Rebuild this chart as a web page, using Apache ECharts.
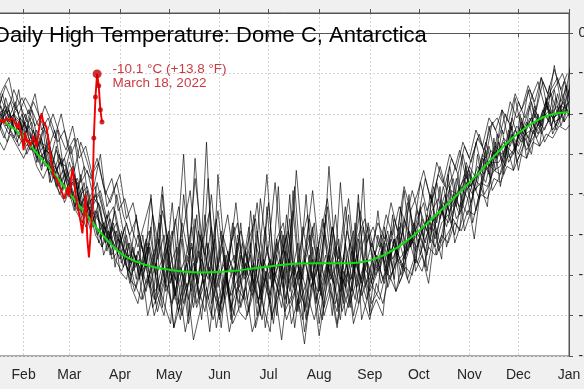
<!DOCTYPE html>
<html><head><meta charset="utf-8">
<script src="https://cdn.jsdelivr.net/npm/echarts@6/dist/echarts.min.js"></script>
<style>html,body{margin:0;padding:0;background:#f0f0f0}#c{width:584px;height:389px}</style>
</head><body><div id="c"></div>
<script>
const titleText = 'Daily High Temperature: Dome C, Antarctica';
const monthNames = ['Feb','Mar','Apr','May','Jun','Jul','Aug','Sep','Oct','Nov','Dec','Jan'];
const monthStartDays = [31,59,90,120,151,181,212,243,273,304,334,365];
const yMin = -80, yMax = 5, yStep = 10;

const climDays = [0,10,20,30,40,50,60,70,80,90,100,110,120,130,140,150,160,170,180,190,200,210,220,230,240,250,260,270,280,290,300,310,320,330,340,350,360,365];
const climValues = [-19.6,-20.3,-22.2,-25.4,-30.2,-35.0,-40.2,-45.3,-50.3,-54.4,-56.6,-57.9,-58.6,-59.1,-59.3,-59.2,-58.9,-58.4,-57.9,-57.4,-57.1,-57.0,-57.0,-57.0,-56.6,-55.3,-53.1,-50.1,-46.4,-42.6,-38.6,-34.5,-30.1,-26.1,-23.0,-20.7,-19.7,-19.6];

const red2022 = [-19,-20,-18.5,-21,-20,-19.5,-22,-20.5,-21,-19,-20,-22,-21,-20,-21.5,-20.5,
 -21,-22,-21.5,-22.3,-21.5,-21,-21.8,-22,-21,-21.6,-22,-23.6,-22,-24,
 -25.8,-29,-24.6,-27,-26.5,-28,-27,-25.4,-27,-28.2,
 -25,-22,-19.8,-22,-22.5,-23.3,-26,-29,-32,-34.8,
 -35.5,-36,-37,-38,-39,-40,-41,-40,-38,-40.6,
 -36,-33.5,-37,-40.6,-43,-44.7,-47,-49.6,-45,-40,
 -51,-55.6,-50,-44,-26,-15.8,-10.1,-13,-19,-22];
const recordDay = 76;
const recordMarkerDays = [74,75,76,77,78,79];
const recordLabel = '-10.1 °C (+13.8 °F)\nMarch 18, 2022';

const sampleStep = 4;
const yearOffsets = [0,1,2,3,0,1,2,3,0,1,2,3,0,1,2,3,0,2];
const yearA = [-18,-22,-17,-21,-24,-19,-23,-26,-22,-29,-27,-33,-31,-38,-35,-41,-37,-45,-43,-50,-47,-55,-49,-58,-52,-61,-50,-63,-57,-68,-54,-46,-60,-66,-58,-71,-52,-62,-49,-64,-70,-55,-60,-45,-66,-59,-72,-57,-50,-63,-58,-68,-48,-61,-55,-70,-53,-60,-64,-51,-58,-62,-50,-57,-49,-56,-46,-53,-44,-51,-40,-47,-38,-45,-36,-42,-34,-39,-31,-35,-27,-32,-24,-29,-22,-26,-20,-23,-17,-21,-18,-19];
const yearB = [-21,-16,-20,-23,-18,-22,-20,-25,-28,-24,-31,-29,-36,-32,-33,-39,-44,-40,-47,-42,-52,-48,-51,-57,-60,-54,-59,-48,-65,-70,-58,-62,-40,-55,-67,-61,-74,-59,-53,-66,-57,-63,-69,-52,-58,-42,-61,-68,-56,-73,-60,-54,-47,-65,-58,-62,-71,-55,-49,-60,-66,-57,-59,-52,-58,-48,-55,-50,-47,-52,-44,-41,-46,-39,-40,-35,-38,-33,-35,-29,-31,-26,-28,-23,-25,-21,-24,-19,-22,-16,-20,-17];
const yearC = [-19,-23,-21,-18,-22,-25,-21,-23,-27,-30,-26,-34,-33,-36,-40,-35,-43,-39,-46,-51,-45,-53,-50,-56,-54,-58,-64,-55,-51,-62,-67,-60,-56,-48,-63,-69,-57,-44,-58,-65,-61,-59,-52,-67,-62,-56,-70,-50,-64,-57,-61,-46,-55,-66,-58,-53,-63,-68,-56,-62,-50,-59,-54,-60,-51,-57,-53,-47,-55,-45,-49,-43,-48,-40,-43,-37,-40,-34,-37,-30,-29,-33,-25,-28,-24,-21,-25,-20,-23,-19,-17,-21];
const yearD = [-22,-19,-24,-20,-19,-24,-27,-22,-25,-31,-28,-30,-38,-34,-37,-42,-38,-46,-44,-48,-53,-49,-57,-52,-58,-52,-60,-66,-59,-53,-64,-71,-55,-61,-50,-57,-64,-68,-60,-47,-63,-57,-65,-60,-48,-63,-57,-66,-60,-52,-69,-59,-64,-50,-61,-57,-67,-52,-63,-58,-69,-55,-61,-55,-53,-58,-49,-54,-49,-46,-51,-44,-47,-43,-38,-41,-36,-38,-32,-34,-33,-28,-30,-26,-22,-25,-22,-18,-21,-20,-18,-16];
const yearE = [-16,-20,-23,-19,-21,-18,-21,-24,-20,-26,-32,-29,-30,-35,-42,-38,-36,-43,-49,-45,-50,-46,-53,-55,-61,-63,-57,-52,-60,-56,-49,-65,-59,-72,-63,-56,-61,-51,-67,-59,-55,-68,-61,-57,-64,-53,-60,-65,-45,-59,-67,-62,-56,-72,-60,-48,-58,-63,-54,-67,-59,-52,-57,-62,-54,-50,-56,-51,-53,-48,-45,-50,-42,-44,-41,-38,-33,-36,-30,-33,-28,-30,-27,-24,-27,-23,-19,-22,-18,-22,-21,-15];
const yearF = [-20,-24,-18,-22,-20,-23,-26,-21,-24,-27,-25,-31,-35,-30,-39,-37,-41,-44,-41,-52,-48,-55,-51,-54,-57,-50,-55,-61,-69,-62,-57,-53,-67,-60,-45,-62,-58,-73,-64,-56,-60,-52,-58,-63,-71,-60,-55,-49,-62,-58,-65,-70,-61,-56,-43,-59,-64,-57,-70,-62,-56,-61,-58,-50,-56,-52,-47,-52,-49,-54,-47,-45,-40,-47,-39,-36,-42,-35,-31,-36,-30,-27,-31,-27,-23,-27,-22,-21,-19,-23,-17,-20];
const yearG = [-23,-18,-21,-25,-22,-20,-24,-27,-23,-25,-33,-27,-32,-37,-34,-43,-40,-38,-45,-47,-49,-52,-56,-50,-59,-56,-62,-58,-47,-64,-60,-69,-58,-53,-62,-45,-67,-61,-57,-71,-52,-61,-55,-70,-56,-61,-51,-59,-67,-63,-48,-57,-66,-61,-55,-67,-60,-45,-59,-65,-61,-54,-62,-58,-51,-60,-55,-48,-51,-55,-46,-52,-44,-41,-45,-39,-37,-41,-34,-32,-32,-29,-26,-30,-25,-24,-21,-24,-20,-18,-22,-19];
const yearH = [-17,-21,-19,-22,-26,-21,-19,-25,-29,-24,-29,-35,-29,-33,-38,-36,-45,-42,-40,-46,-51,-44,-52,-59,-55,-59,-53,-64,-62,-50,-66,-58,-63,-57,-66,-52,-60,-70,-55,-61,-67,-54,-62,-66,-59,-71,-62,-54,-58,-69,-56,-63,-58,-47,-64,-69,-55,-61,-57,-48,-64,-60,-53,-61,-57,-55,-51,-57,-46,-50,-53,-47,-45,-50,-42,-45,-39,-37,-38,-34,-35,-31,-29,-24,-29,-26,-23,-17,-24,-21,-19,-22];
const yearI = [-21,-17,-22,-24,-17,-23,-22,-28,-25,-22,-30,-31,-37,-33,-31,-40,-44,-37,-48,-44,-55,-50,-47,-53,-62,-55,-66,-60,-54,-38,-57,-64,-70,-62,-31,-55,-66,-59,-73,-57,-48,-62,-70,-64,-52,-35,-58,-63,-71,-66,-60,-40,-62,-75,-64,-57,-51,-70,-63,-42,-60,-67,-64,-48,-60,-56,-59,-44,-57,-52,-48,-55,-50,-38,-46,-43,-35,-44,-36,-28,-34,-24,-32,-29,-21,-28,-18,-25,-22,-14,-23,-18];
const yearJ = [-24,-22,-16,-20,-23,-27,-20,-22,-30,-26,-27,-28,-34,-40,-36,-33,-42,-48,-43,-40,-46,-56,-54,-48,-63,-67,-58,-40,-61,-67,-72,-52,-30,-60,-68,-63,-56,-46,-62,-74,-66,-58,-48,-73,-66,-57,-64,-76,-62,-38,-59,-65,-71,-64,-57,-62,-37,-58,-72,-66,-56,-63,-66,-59,-45,-62,-58,-60,-51,-58,-40,-54,-51,-48,-35,-49,-44,-30,-40,-37,-25,-35,-22,-32,-28,-18,-26,-23,-13,-24,-20,-14];
const yearK = [-18,-25,-20,-17,-21,-19,-25,-20,-26,-28,-34,-25,-36,-31,-38,-44,-35,-47,-41,-43,-54,-47,-59,-61,-53,-61,-52,-68,-64,-58,-42,-62,-74,-66,-54,-64,-70,-35,-54,-68,-63,-66,-44,-61,-68,-74,-52,-61,-40,-65,-71,-55,-67,-59,-33,-56,-69,-64,-47,-71,-65,-58,-52,-63,-58,-43,-61,-56,-43,-59,-50,-38,-53,-46,-49,-33,-47,-40,-29,-39,-36,-30,-23,-34,-26,-30,-20,-27,-24,-15,-22,-12];
const yearL = [-25,-20,-23,-26,-20,-17,-23,-26,-21,-32,-24,-37,-28,-39,-32,-37,-47,-41,-38,-53,-44,-58,-49,-57,-64,-57,-70,-63,-45,-60,-73,-63,-57,-68,-59,-27,-63,-71,-65,-58,-69,-71,-64,-56,-73,-62,-38,-69,-65,-59,-74,-64,-53,-68,-62,-72,-59,-67,-61,-36,-70,-66,-70,-54,-64,-60,-40,-59,-55,-62,-49,-56,-35,-52,-47,-41,-51,-38,-43,-26,-38,-28,-34,-20,-31,-24,-28,-16,-25,-21,-13,-24];
const yearM = [-12,-16,-10,-15,-18,-13,-17,-20,-16,-19,-23,-18,-22,-27,-24,-30,-26,-33,-36,-31,-38,-42,-37,-45,-50,-46,-54,-49,-58,-44,-52,-61,-47,-55,-36,-50,-58,-63,-53,-45,-57,-49,-56,-62,-41,-54,-60,-50,-57,-44,-61,-52,-39,-55,-62,-48,-56,-43,-58,-50,-46,-53,-47,-51,-42,-49,-38,-44,-40,-34,-41,-32,-37,-30,-34,-27,-31,-24,-28,-21,-24,-19,-22,-15,-19,-13,-17,-11,-15,-9,-14,-10];
const yearN = [-14,-11,-17,-13,-16,-20,-14,-18,-22,-17,-21,-25,-20,-25,-29,-23,-31,-28,-35,-32,-40,-36,-44,-41,-48,-53,-47,-41,-56,-50,-62,-55,-48,-39,-57,-51,-44,-59,-50,-56,-42,-57,-51,-46,-59,-53,-37,-55,-49,-60,-52,-45,-58,-50,-41,-54,-61,-49,-55,-44,-52,-48,-53,-45,-50,-43,-47,-39,-45,-36,-42,-35,-38,-31,-35,-28,-32,-26,-29,-23,-21,-25,-17,-21,-18,-14,-19,-12,-16,-13,-10,-15];
const yearO = [-9,-15,-12,-18,-14,-11,-19,-16,-20,-15,-24,-21,-26,-20,-28,-34,-27,-32,-38,-30,-43,-39,-35,-46,-42,-50,-58,-45,-53,-63,-51,-43,-56,-64,-49,-55,-40,-57,-66,-52,-47,-60,-54,-42,-58,-65,-51,-47,-59,-34,-53,-62,-57,-46,-55,-64,-52,-41,-57,-61,-47,-55,-50,-56,-46,-52,-42,-48,-37,-44,-40,-33,-39,-35,-29,-36,-30,-25,-31,-22,-26,-20,-24,-17,-21,-16,-12,-18,-14,-11,-17,-8];
const yearP = [-24,-27,-23,-26,-29,-25,-28,-31,-27,-33,-36,-32,-38,-41,-37,-44,-47,-43,-50,-53,-49,-56,-59,-55,-62,-66,-60,-70,-64,-58,-73,-67,-62,-76,-69,-63,-71,-65,-59,-72,-68,-63,-74,-69,-60,-70,-65,-58,-72,-66,-77,-63,-57,-70,-64,-73,-61,-68,-55,-66,-71,-62,-67,-60,-64,-57,-62,-56,-59,-53,-55,-50,-52,-47,-49,-44,-45,-40,-41,-36,-37,-33,-34,-30,-31,-27,-28,-25,-26,-23,-24,-22];
const yearQ = [-15,-21,-13,-19,-24,-16,-22,-14,-25,-19,-28,-22,-30,-24,-35,-28,-39,-33,-46,-37,-44,-51,-40,-49,-57,-45,-61,-53,-67,-40,-58,-65,-51,-70,-46,-60,-36,-62,-69,-54,-61,-47,-66,-58,-70,-43,-62,-56,-67,-39,-60,-71,-53,-64,-45,-59,-68,-52,-61,-40,-63,-57,-44,-59,-51,-55,-39,-53,-46,-42,-52,-37,-45,-33,-43,-30,-38,-27,-34,-23,-31,-19,-27,-16,-24,-14,-21,-11,-19,-8,-17,-13];
const yearR = [-20,-13,-18,-22,-15,-21,-17,-24,-19,-23,-20,-29,-24,-33,-29,-26,-37,-34,-41,-39,-46,-43,-52,-47,-54,-60,-51,-57,-64,-55,-49,-67,-61,-52,-65,-59,-48,-63,-55,-69,-50,-58,-64,-49,-61,-67,-55,-63,-46,-69,-58,-50,-64,-71,-57,-45,-62,-59,-66,-53,-48,-60,-55,-49,-61,-47,-54,-51,-44,-49,-38,-46,-41,-36,-44,-32,-37,-34,-27,-33,-27,-31,-21,-26,-22,-17,-23,-18,-15,-20,-12,-17];
const otherYears = [yearA,yearB,yearC,yearD,yearE,yearF,yearG,yearH,yearI,yearJ,yearK,yearL,yearM,yearN,yearO,yearP,yearQ,yearR];

const FONT = '"Liberation Sans", Arial, Helvetica, sans-serif';
const dayCats = Array.from({length: 366}, (_, i) => String(i));
const isMonthStart = (idx) => monthStartDays.includes(idx);

const series = [];
otherYears.forEach((vals, k) => {
  series.push({
    type: 'line', xAxisIndex: 0, yAxisIndex: 0, silent: true, symbol: 'none', z: 2,
    lineStyle: { color: 'rgba(0,0,0,0.72)', width: 0.9 },
    data: vals.map((v, i) => [yearOffsets[k] + sampleStep * i, v])
  });
});
series.push({
  type: 'line', smooth: 0.4, symbol: 'none', silent: true, z: 4,
  lineStyle: { color: '#12dd12', width: 2 },
  data: climDays.map((d, i) => [d, climValues[i]])
});
series.push({
  type: 'line', symbol: 'none', silent: true, z: 5,
  lineStyle: { color: '#f00000', width: 1.9 },
  data: red2022.map((v, i) => [i, v])
});
series.push({
  type: 'scatter', silent: true, z: 6,
  itemStyle: { color: '#c00000' },
  data: recordMarkerDays.map(d => ({
    value: [d, red2022[d]],
    symbolSize: d === recordDay ? 9 : 5,
    label: d === recordDay ? {
      show: true, position: 'right', distance: 11, offset: [0, 2],
      formatter: recordLabel, color: '#bb0a12', fontSize: 13.5, lineHeight: 14,
      fontFamily: FONT, align: 'left'
    } : { show: false }
  }))
});

const chart = echarts.init(document.getElementById('c'), null, { renderer: 'canvas' });
chart.setOption({
  animation: false,
  backgroundColor: '#f0f0f0',
  title: {
    text: titleText, left: -6, top: 25, padding: 0,
    textStyle: { fontSize: 22, fontWeight: 'normal', color: '#000', fontFamily: FONT }
  },
  grid: { left: -27, right: 15, top: 13, bottom: 33, show: true, backgroundColor: '#ffffff', borderColor: '#555', borderWidth: 1,
    containLabel: false, outerBoundsMode: 'none' },
  xAxis: [{
    type: 'category', data: dayCats, boundaryGap: false, position: 'bottom',
    axisLine: { lineStyle: { color: '#555', width: 1 } },
    axisTick: { show: true, interval: isMonthStart, length: 4, lineStyle: { color: '#555' } },
    axisLabel: { interval: isMonthStart, formatter: (v, idx) => monthNames[monthStartDays.indexOf(Number(v))] || '',
      fontSize: 14, color: '#262626', margin: 12, fontFamily: FONT },
    splitLine: { show: true, interval: isMonthStart, lineStyle: { color: '#d4d4d4', type: [2, 2], width: 1 } }
  }, {
    type: 'category', data: dayCats, boundaryGap: false, position: 'top',
    axisLine: { lineStyle: { color: '#555', width: 1 } },
    axisTick: { show: true, interval: isMonthStart, length: 4, lineStyle: { color: '#555' } },
    axisLabel: { show: false }, splitLine: { show: false }
  }],
  yAxis: [{
    type: 'value', position: 'right', min: yMin, max: yMax, interval: yStep,
    axisLine: { show: true, lineStyle: { color: '#555', width: 1 } },
    axisTick: { show: true, length: 4, lineStyle: { color: '#555' } },
    axisLabel: { showMaxLabel: false, fontSize: 14, color: '#262626', margin: 9.5, fontFamily: FONT,
      formatter: v => (v > 0 ? '' : String(v)) },
    splitLine: { show: true, lineStyle: { color: '#d4d4d4', type: [2, 2], width: 1 } }
  }],
  series
});
</script></body></html>
